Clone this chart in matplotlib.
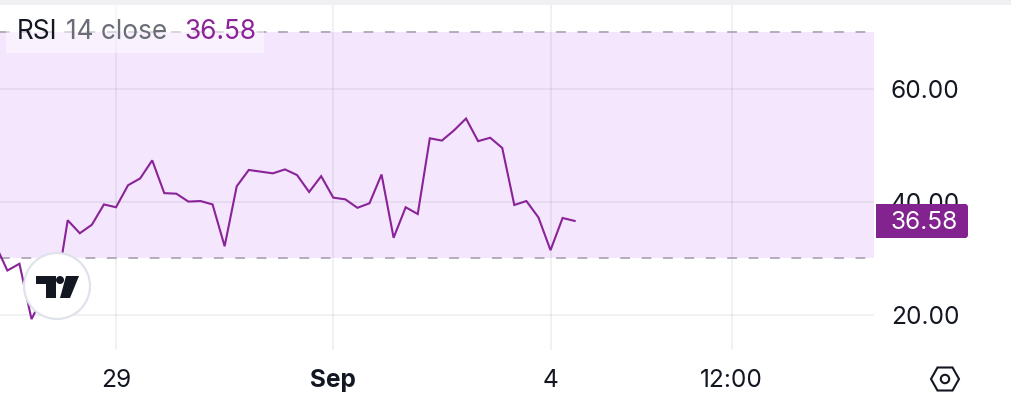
import matplotlib
matplotlib.use("Agg")
import matplotlib.pyplot as plt
from matplotlib.patches import Circle, Polygon, Rectangle, FancyBboxPatch

plt.rcParams['font.family'] = ['Inter', 'DejaVu Sans']

bars = list(range(-10, 39))
rsi = [32.4, 27.8, 29.0, 19.2, 23.4, 23.5, 36.7, 34.4, 35.9, 39.5,
       39.0, 42.9, 44.1, 47.3, 41.5, 41.4, 40.0, 40.1, 39.5, 32.1,
       42.7, 45.6, 45.3, 45.0, 45.7, 44.7, 41.7, 44.5, 40.7, 40.4,
       38.9, 39.7, 44.8, 33.6, 39.0, 37.8, 51.2, 50.8, 52.6, 54.7,
       50.7, 51.3, 49.5, 39.4, 40.1, 37.2, 31.4, 37.1, 36.58]
x_ticks = [0, 18, 36, 51]
x_labels = ["29", "Sep", "4", "12:00"]
y_ticks = [20, 40, 60]
y_labels = ["20.00", "40.00", "60.00"]
band = (30, 70)
last_value = "36.58"

W, H = 1012, 400
PURPLE = "#8A2298"
TAG = "#82238F"
INK = "#131722"
GRID_RGB = (30/255, 30/255, 60/255)
DASH = "#B5ABBB"
AXIS_SIZE = 17.6
LEGEND_SIZE = 18.9

fig = plt.figure(figsize=(W/100, H/100), dpi=100, facecolor="white")
L, R, T, B = 0, 874, 5, 350
ax = fig.add_axes([L/W, 1-B/H, (R-L)/W, (B-T)/H])
px_per_bar = 12.07
px_per_unit = 5.65
ax.set_xlim((L-116)/px_per_bar, (R-116)/px_per_bar)
ax.set_ylim(20-(B-314.6)/px_per_unit, 20+(314.6-T)/px_per_unit)

ax.axhspan(band[0], band[1], facecolor="#F3E6FD", edgecolor="none", zorder=1)
ax.set_xticks(x_ticks, x_labels)
ax.yaxis.tick_right()
ax.set_yticks(y_ticks, y_labels)
ax.grid(True, color=GRID_RGB, alpha=0.06, linewidth=1.44)
ax.set_axisbelow(False)
for gl in ax.get_xgridlines() + ax.get_ygridlines():
    gl.set_zorder(2)
for v in band:
    ax.axhline(v, color=DASH, linewidth=1.4, dashes=(5.0, 6.0), zorder=3)
ax.plot(bars, rsi, color=PURPLE, linewidth=1.5, zorder=4, solid_joinstyle="miter")
ax.tick_params(axis="both", length=0, labelsize=AXIS_SIZE, labelcolor=INK)
ax.tick_params(axis="x", pad=14)
ax.tick_params(axis="y", pad=12)
ax.get_xticklabels()[1].set_fontweight("bold")
for s in ax.spines.values():
    s.set_visible(False)
ax.patch.set_alpha(0)

# Overlay in pixel coordinates for the widgets
ov = fig.add_axes([0, 0, 1, 1], zorder=10)
ov.set_xlim(0, W)
ov.set_ylim(H, 0)
ov.axis("off")
ov.add_patch(Rectangle((0, 0), W, 5, facecolor="#F0F0F3", edgecolor="none"))
ov.add_patch(Rectangle((6, 5), 258, 48, facecolor="white", alpha=0.5, edgecolor="none"))
ov.text(17, 32, "RSI", color=INK, fontsize=LEGEND_SIZE, va="center")
ov.text(66, 32, "14 close", color="#6A6D78", fontsize=LEGEND_SIZE, va="center")
ov.text(184.5, 32, last_value, color=PURPLE, fontsize=LEGEND_SIZE, va="center")

# Last value tag
ov.add_patch(Rectangle((876, 204), 90, 34, facecolor=TAG, edgecolor="none"))
ov.add_patch(FancyBboxPatch((880, 204), 88, 34, boxstyle="round,pad=0,rounding_size=3",
                            facecolor=TAG, edgecolor="none"))
ov.text(924, 222.5, last_value, color="white", fontsize=AXIS_SIZE, va="center", ha="center")

# Logo badge
ov.add_patch(Circle((57, 286), 33, facecolor="white", edgecolor="#E0E3EB", linewidth=1.6))
ov.add_patch(Polygon([(36, 276), (56, 276), (56, 298), (46, 298), (46, 283.5), (36, 283.5)],
                     facecolor=INK, edgecolor="none"))
ov.add_patch(Circle((60, 280), 4, facecolor=INK, edgecolor="none"))
ov.add_patch(Polygon([(66, 276), (79, 276), (70, 298), (60, 298)], facecolor=INK, edgecolor="none"))

# Settings icon
ov.add_patch(Polygon([(931, 379), (937.5, 367.5), (952.5, 367.5), (959, 379), (952.5, 390.5), (937.5, 390.5)],
                     closed=True, facecolor="none", edgecolor=INK, linewidth=1.5))
ov.add_patch(Circle((945, 379), 4.2, facecolor="none", edgecolor=INK, linewidth=1.5))

fig.savefig("out.png", dpi=100)
